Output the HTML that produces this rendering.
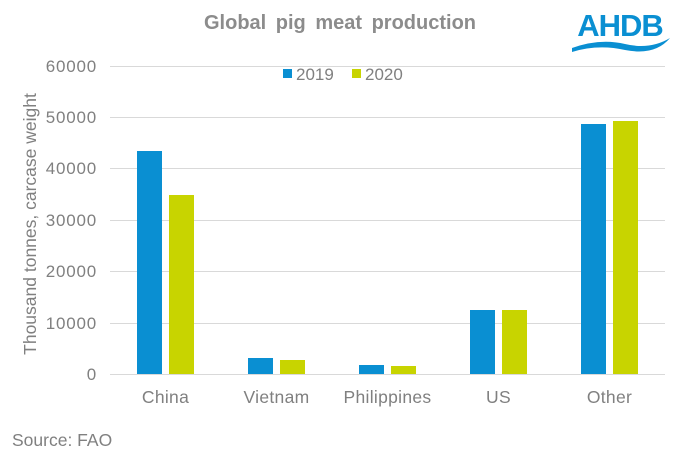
<!DOCTYPE html>
<html><head><meta charset="utf-8"><style>body{margin:0;background:#fff}</style></head><body>
<svg width="680" height="454" xmlns="http://www.w3.org/2000/svg" font-family="Liberation Sans, Arial, sans-serif">
<rect width="680" height="454" fill="#fff"/>
<text x="340" y="29" text-anchor="middle" font-size="20" font-weight="bold" fill="#8c8c8c" word-spacing="4">Global pig meat production</text>
<text x="620" y="36" text-anchor="middle" font-size="31" font-weight="bold" fill="#0a8fd2" letter-spacing="-1">AHDB</text>
<path d="M572 48 Q600 38 625 44 Q650 50 670 38 Q655 56 625 50 Q598 44 572 52 Z" fill="#0a8fd2"/>
<g stroke="#d9d9d9" stroke-width="1">
<line x1="110" x2="665" y1="66.5" y2="66.5"/><line x1="110" x2="665" y1="117.5" y2="117.5"/>
<line x1="110" x2="665" y1="168.5" y2="168.5"/><line x1="110" x2="665" y1="220.5" y2="220.5"/>
<line x1="110" x2="665" y1="271.5" y2="271.5"/><line x1="110" x2="665" y1="323.5" y2="323.5"/>
<line x1="110" x2="665" y1="374.5" y2="374.5"/></g>
<g font-size="17" fill="#808080" text-anchor="end" letter-spacing="0.8">
<text x="97" y="72">60000</text><text x="97" y="123">50000</text><text x="97" y="174">40000</text>
<text x="97" y="226">30000</text><text x="97" y="277">20000</text><text x="97" y="329">10000</text><text x="97" y="380">0</text></g>
<text transform="translate(36,224) rotate(-90)" text-anchor="middle" font-size="17.5" fill="#808080">Thousand tonnes, carcase weight</text>
<rect x="283" y="69" width="9" height="9" fill="#0a8fd2"/><text x="296" y="80" font-size="17" fill="#808080">2019</text>
<rect x="352" y="69" width="9" height="9" fill="#c8d400"/><text x="365" y="80" font-size="17" fill="#808080">2020</text>
<g fill="#0a8fd2">
<rect x="137" y="151" width="25" height="223"/><rect x="248" y="358" width="25" height="16"/>
<rect x="359" y="365" width="25" height="9"/><rect x="470" y="310" width="25" height="64"/>
<rect x="581" y="124" width="25" height="250"/></g>
<g fill="#c8d400">
<rect x="169" y="195" width="25" height="179"/><rect x="280" y="360" width="25" height="14"/>
<rect x="391" y="366" width="25" height="8"/><rect x="502" y="310" width="25" height="64"/>
<rect x="613" y="121" width="25" height="253"/></g>
<g font-size="17.5" fill="#808080" text-anchor="middle" letter-spacing="0.3">
<text x="165.5" y="403">China</text><text x="276.5" y="403">Vietnam</text><text x="387.5" y="403">Philippines</text>
<text x="498.5" y="403">US</text><text x="609.5" y="403">Other</text></g>
<text x="12" y="446" font-size="17.5" fill="#808080">Source: FAO</text>
</svg>
</body></html>
